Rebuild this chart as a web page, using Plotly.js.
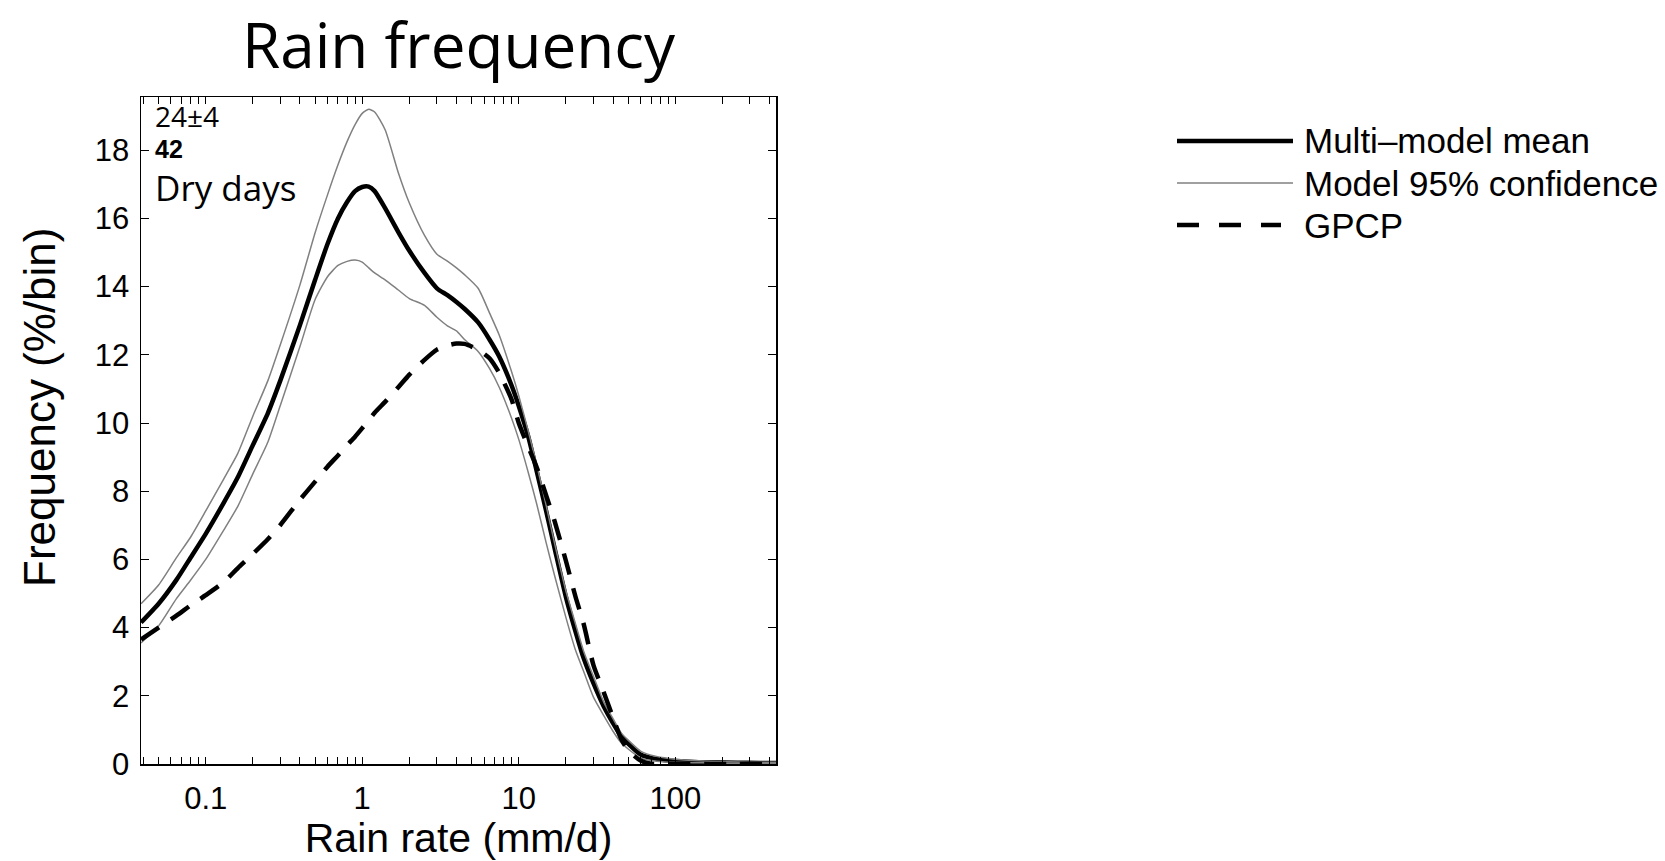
<!DOCTYPE html>
<html>
<head>
<meta charset="utf-8">
<script src="https://cdn.plot.ly/plotly-3.0.1.min.js"></script>
<style>html,body{margin:0;padding:0;background:#fff;}#chart{width:1665px;height:861px;}</style>
</head>
<body>
<div id="chart"></div>
<script>
// Rain rate bins (mm/d)
const rainRate = [0.0386, 0.05, 0.065, 0.08, 0.1, 0.13, 0.16, 0.2, 0.25, 0.3, 0.4, 0.5, 0.6, 0.7, 0.8, 0.9, 1.0, 1.1, 1.2, 1.4, 1.7, 2.0, 2.5, 3.0, 3.5, 4.0, 4.5, 5.5, 6.5, 7.5, 9, 10, 11.5, 13, 15, 17, 20, 23, 26, 30, 35, 40, 45, 50, 60, 70, 85, 100, 130, 170, 250, 350, 440];
// Frequency (%/bin)
const multiModelMean = [4.15, 4.7, 5.4, 6.05, 6.75, 7.65, 8.4, 9.35, 10.3, 11.25, 12.87, 14.2, 15.25, 16.0, 16.48, 16.8, 16.92, 16.93, 16.8, 16.3, 15.6, 15.05, 14.4, 13.95, 13.75, 13.55, 13.35, 12.95, 12.45, 11.95, 11.1, 10.5, 9.6, 8.6, 7.4, 6.3, 4.9, 3.9, 3.1, 2.37, 1.68, 1.2, 0.82, 0.6, 0.28, 0.18, 0.12, 0.09, 0.06, 0.05, 0.04, 0.03, 0.03];
const confUpper = [4.7, 5.25, 6.05, 6.65, 7.42, 8.35, 9.1, 10.2, 11.25, 12.3, 14.05, 15.58, 16.69, 17.57, 18.25, 18.75, 19.08, 19.2, 19.12, 18.6, 17.34, 16.45, 15.5, 14.95, 14.75, 14.55, 14.35, 13.95, 13.23, 12.58, 11.5, 10.8, 9.76, 8.79, 7.56, 6.44, 5.08, 4.12, 3.3, 2.57, 1.8, 1.33, 0.92, 0.7, 0.38, 0.26, 0.18, 0.14, 0.1, 0.08, 0.06, 0.05, 0.05];
const confLower = [3.55, 4.05, 4.85, 5.39, 6.0, 6.85, 7.55, 8.51, 9.45, 10.52, 12.24, 13.62, 14.29, 14.62, 14.74, 14.78, 14.72, 14.55, 14.4, 14.2, 13.9, 13.65, 13.45, 13.1, 12.85, 12.7, 12.45, 12.1, 11.6, 11.05, 10.14, 9.52, 8.55, 7.64, 6.47, 5.5, 4.3, 3.35, 2.71, 1.96, 1.41, 0.96, 0.63, 0.44, 0.18, 0.1, 0.06, 0.05, 0.04, 0.03, 0.02, 0.02, 0.02];
const gpcp = [3.65, 4.0, 4.35, 4.65, 4.95, 5.33, 5.74, 6.16, 6.6, 7.01, 7.75, 8.28, 8.72, 9.05, 9.35, 9.6, 9.85, 10.08, 10.3, 10.62, 11.05, 11.42, 11.85, 12.15, 12.27, 12.33, 12.32, 12.15, 11.9, 11.47, 10.69, 10.0, 9.3, 8.71, 7.86, 7.1, 5.96, 4.92, 4.1, 2.9, 2.09, 1.36, 0.75, 0.4, 0.1, 0.01, 0, 0, 0, 0, 0, 0, 0];

const seriesNames = ['Multi\u2013model mean', 'Model 95% confidence', 'GPCP'];
const majorTicks = [0.1, 1, 10, 100];
const majorLabels = ['0.1', '1', '10', '100'];
const minorTicks = [0.04,0.05,0.06,0.07,0.08,0.09,0.2,0.3,0.4,0.5,0.6,0.7,0.8,0.9,2,3,4,5,6,7,8,9,20,30,40,50,60,70,80,90,200,300,400];
const xRange = [0.0386, 440];
const yRange = [0, 19.56];
const cornerLines = ['24\u00b14', '42', 'Dry days'];

const tickVals = majorTicks.concat(minorTicks);
const tickText = majorLabels.concat(minorTicks.map(() => ''));

const HELV = 'Liberation Sans, Arial, Helvetica, sans-serif';
const MYR = 'Open Sans, Noto Sans, sans-serif';

const traces = [
  {x: rainRate, y: multiModelMean, mode: 'lines', name: seriesNames[0], line: {color: '#000', width: 4.5, shape: 'spline', smoothing: 0.6}},
  {x: rainRate, y: confUpper, mode: 'lines', name: seriesNames[1], line: {color: '#808080', width: 1.5, shape: 'spline', smoothing: 0.6}},
  {x: rainRate, y: confLower, mode: 'lines', name: seriesNames[1], showlegend: false, line: {color: '#808080', width: 1.5, shape: 'spline', smoothing: 0.6}},
  {x: rainRate, y: gpcp, mode: 'lines', name: seriesNames[2], line: {color: '#000', width: 4.5, dash: '22px,14px', shape: 'spline', smoothing: 0.6}}
];

// plot area in pixels: left 141, right 776, top 97, bottom 764
const L = 141, R = 776, T = 97, B = 764;
const px = fx => (fx - L) / (R - L);
const py = fy => (B - fy) / (B - T);

const legendRows = [141, 183, 225];
const legendStyles = [
  {color: '#000', width: 4.5, dash: 'solid', x1: 1293},
  {color: '#808080', width: 1.5, dash: 'solid', x1: 1293},
  {color: '#000', width: 4.5, dash: '22px,20px', x1: 1281}
];
const shapes = legendStyles.map((s, i) => ({
  type: 'line', xref: 'paper', yref: 'paper',
  x0: px(1177), x1: px(s.x1), y0: py(legendRows[i]), y1: py(legendRows[i]),
  line: {color: s.color, width: s.width, dash: s.dash}
}));

const annotations = seriesNames.map((n, i) => ({
  text: n, xref: 'paper', yref: 'paper', x: px(1302), y: py(legendRows[i]),
  xanchor: 'left', yanchor: 'middle', showarrow: false,
  font: {family: HELV, size: 35, color: '#000'}
}));
annotations.push(
  {text: cornerLines[0], xref: 'paper', yref: 'paper', x: px(154), y: py(96), xanchor: 'left', yanchor: 'top', borderpad: 0, showarrow: false, font: {family: MYR, size: 28, color: '#000'}},
  {text: '<b>' + cornerLines[1] + '</b>', xref: 'paper', yref: 'paper', x: px(154), y: py(134), xanchor: 'left', yanchor: 'top', borderpad: 0, showarrow: false, font: {family: HELV, size: 25, color: '#000'}},
  {text: cornerLines[2], xref: 'paper', yref: 'paper', x: px(154), y: py(163), xanchor: 'left', yanchor: 'top', borderpad: 0, showarrow: false, font: {family: MYR, size: 35, color: '#000'}},
  {text: 'Frequency (%/bin)', xref: 'paper', yref: 'paper', x: px(39), y: py(408), xanchor: 'center', yanchor: 'middle', textangle: -90, showarrow: false, font: {family: HELV, size: 44, color: '#000'}}
);

const layout = {
  width: 1665, height: 861,
  margin: {l: L, r: 1665 - R, t: T, b: 861 - B, pad: 0},
  paper_bgcolor: '#fff', plot_bgcolor: '#fff',
  showlegend: false,
  title: {text: 'Rain frequency', font: {family: MYR, size: 62, color: '#000'}, xref: 'paper', x: 0.5, xanchor: 'center', yref: 'container', y: 1 - 46 / 861, yanchor: 'middle'},
  xaxis: {
    type: 'log', range: [Math.log10(xRange[0]), Math.log10(xRange[1])],
    tickmode: 'array', tickvals: tickVals, ticktext: tickText,
    ticks: 'inside', ticklen: 7, tickwidth: 1, tickcolor: '#000',
    showline: true, linecolor: '#000', linewidth: 1.5, mirror: 'allticks',
    showgrid: false, zeroline: false,
    tickfont: {family: HELV, size: 31, color: '#000'}, ticklabelstandoff: 6,
    title: {text: 'Rain rate (mm/d)', font: {family: HELV, size: 41, color: '#000'}, standoff: 7},
    automargin: false
  },
  yaxis: {
    range: yRange, tick0: 0, dtick: 2,
    ticks: 'inside', ticklen: 8, tickwidth: 1, tickcolor: '#000',
    showline: true, linecolor: '#000', linewidth: 1.5, mirror: 'allticks',
    showgrid: false, zeroline: false,
    tickfont: {family: HELV, size: 31, color: '#000'}, ticklabelstandoff: 4,
    automargin: false
  },
  shapes: shapes,
  annotations: annotations
};

Plotly.newPlot('chart', traces, layout, {displayModeBar: false, staticPlot: true});
</script>
</body>
</html>
